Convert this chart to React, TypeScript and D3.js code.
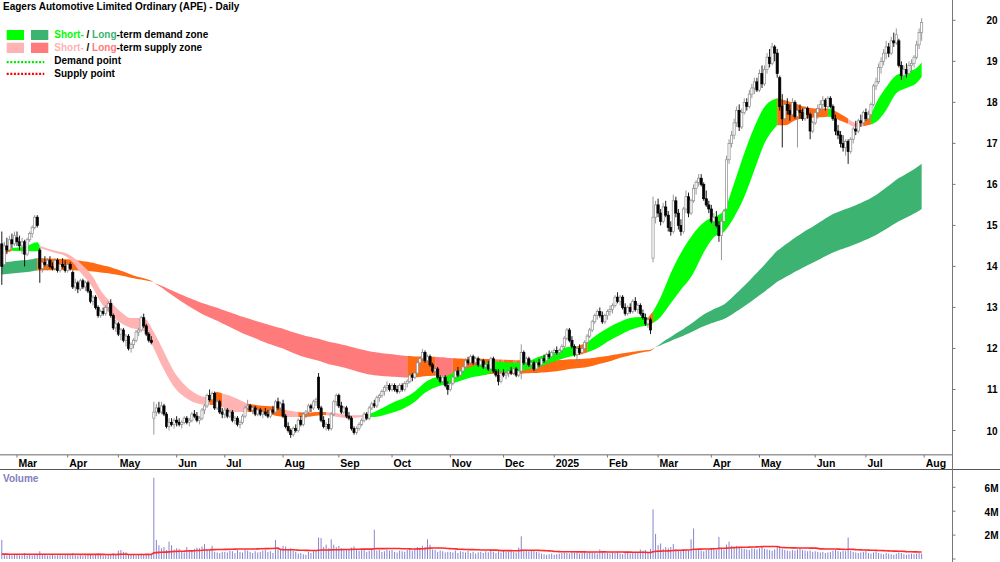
import * as d3 from 'd3';

// [open, high, low, close] for each trading day, grouped by month
type Candle = [number, number, number, number];

const feb24: Candle[] = [
  [14.55, 14.85, 13.55, 14.0], [14.05, 14.6, 14.0, 14.5], [14.5, 14.7, 14.3, 14.4], [14.4, 14.75, 14.35, 14.65],
  [14.65, 14.8, 14.45, 14.55], [14.55, 14.85, 14.5, 14.75],
];
const mar24: Candle[] = [
  [14.7, 14.85, 14.5, 14.6], [14.6, 14.75, 14.4, 14.5], [14.5, 14.7, 14.3, 14.6], [14.6, 14.65, 14.0, 14.3],
  [14.3, 14.7, 14.25, 14.65], [14.65, 14.85, 14.6, 14.8], [14.8, 15.0, 14.7, 14.95], [14.95, 15.25, 14.9, 15.2],
  [15.2, 15.25, 14.95, 15.0], [14.4, 14.45, 13.6, 13.95], [13.95, 14.2, 13.85, 14.1], [14.1, 14.25, 14.0, 14.05],
  [14.05, 14.2, 13.9, 14.15], [14.15, 14.25, 13.95, 14.0], [14.0, 14.1, 13.9, 13.95], [13.95, 14.2, 13.9, 14.15],
  [14.15, 14.2, 13.85, 13.9], [13.9, 14.1, 13.85, 14.05], [14.05, 14.2, 13.95, 14.0], [14.0, 14.15, 13.85, 13.9],
];
const apr24: Candle[] = [
  [13.9, 14.1, 13.85, 14.05], [14.05, 14.1, 13.9, 13.95], [13.85, 13.9, 13.45, 13.5], [13.5, 13.7, 13.4, 13.6],
  [13.6, 13.65, 13.35, 13.45], [13.45, 13.7, 13.4, 13.65], [13.65, 13.7, 13.45, 13.5], [13.5, 13.65, 13.4, 13.6],
  [13.6, 13.65, 13.35, 13.4], [13.4, 13.45, 13.1, 13.15], [13.15, 13.3, 13.05, 13.25], [13.25, 13.3, 12.95, 13.0],
  [13.0, 13.05, 12.75, 12.8], [12.8, 12.95, 12.75, 12.9], [12.9, 13.0, 12.8, 12.85], [12.85, 13.05, 12.8, 13.0],
  [13.0, 13.15, 12.9, 13.1], [13.1, 13.2, 12.75, 12.8], [12.8, 12.85, 12.45, 12.5], [12.5, 12.7, 12.4, 12.6],
];
const may24: Candle[] = [
  [12.6, 12.65, 12.3, 12.35], [12.35, 12.5, 12.2, 12.45], [12.45, 12.5, 12.15, 12.2], [12.2, 12.35, 12.05, 12.3],
  [12.3, 12.35, 11.95, 12.0], [12.0, 12.15, 11.9, 12.1], [12.1, 12.25, 12.0, 12.2], [12.2, 12.45, 12.15, 12.4],
  [12.4, 12.5, 12.3, 12.45], [12.45, 12.8, 12.4, 12.75], [12.75, 12.85, 12.5, 12.55], [12.55, 12.6, 12.3, 12.35],
  [12.35, 12.4, 12.15, 12.2], [12.2, 12.3, 12.1, 12.15], [10.3, 10.7, 9.9, 10.45], [10.45, 10.65, 10.35, 10.55],
  [10.55, 10.7, 10.4, 10.45], [10.45, 10.7, 10.4, 10.6], [10.6, 10.65, 10.35, 10.4], [10.4, 10.45, 10.05, 10.1],
  [10.1, 10.3, 10.0, 10.2], [10.2, 10.3, 10.1, 10.15], [10.15, 10.3, 10.05, 10.25],
];
const jun24: Candle[] = [
  [10.25, 10.35, 10.1, 10.2], [10.2, 10.3, 10.1, 10.15], [10.15, 10.25, 10.05, 10.2], [10.2, 10.35, 10.15, 10.3],
  [10.3, 10.35, 10.15, 10.2], [10.2, 10.3, 10.1, 10.25], [10.25, 10.45, 10.2, 10.4], [10.4, 10.5, 10.3, 10.35],
  [10.35, 10.45, 10.2, 10.25], [10.25, 10.35, 10.15, 10.3], [10.3, 10.55, 10.25, 10.5], [10.5, 10.65, 10.4, 10.6],
  [10.6, 10.9, 10.55, 10.85], [10.85, 11.0, 10.7, 10.75], [10.75, 10.95, 10.7, 10.9], [10.9, 10.95, 10.5, 10.55],
  [10.55, 10.75, 10.5, 10.7], [10.7, 10.75, 10.4, 10.45], [10.45, 10.55, 10.3, 10.4],
];
const jul24: Candle[] = [
  [10.4, 10.55, 10.3, 10.5], [10.5, 10.55, 10.3, 10.35], [10.35, 10.5, 10.3, 10.45], [10.45, 10.5, 10.2, 10.25],
  [10.25, 10.35, 10.15, 10.3], [10.3, 10.35, 10.1, 10.15], [10.15, 10.25, 10.05, 10.2], [10.2, 10.4, 10.15, 10.35],
  [10.35, 10.6, 10.3, 10.55], [10.55, 10.75, 10.5, 10.6], [10.6, 10.65, 10.45, 10.5], [10.5, 10.6, 10.4, 10.55],
  [10.55, 10.6, 10.35, 10.4], [10.4, 10.55, 10.35, 10.5], [10.5, 10.55, 10.35, 10.4], [10.4, 10.5, 10.3, 10.45],
  [10.45, 10.55, 10.35, 10.4], [10.4, 10.5, 10.3, 10.35], [10.35, 10.55, 10.3, 10.5], [10.5, 10.6, 10.4, 10.45],
  [10.45, 10.75, 10.4, 10.7], [10.7, 10.8, 10.5, 10.55], [10.55, 10.7, 10.45, 10.65],
];
const aug24: Candle[] = [
  [10.65, 10.75, 10.3, 10.35], [10.35, 10.4, 10.05, 10.1], [10.1, 10.2, 9.95, 10.0], [10.0, 10.05, 9.82, 9.9],
  [9.9, 10.1, 9.85, 10.05], [10.05, 10.15, 9.95, 10.0], [10.0, 10.3, 9.95, 10.25], [10.25, 10.35, 10.1, 10.15],
  [10.15, 10.45, 10.1, 10.4], [10.4, 10.5, 10.3, 10.45], [10.45, 10.65, 10.4, 10.6], [10.6, 10.65, 10.45, 10.55],
  [10.55, 10.75, 10.5, 10.7], [10.7, 10.8, 10.6, 10.75], [11.3, 11.4, 10.5, 10.55], [10.55, 10.6, 10.2, 10.25],
  [10.25, 10.35, 10.05, 10.1], [10.1, 10.2, 10.0, 10.15], [10.15, 10.3, 10.0, 10.05], [10.05, 10.45, 10.0, 10.4],
  [10.4, 10.75, 10.35, 10.7], [10.7, 10.9, 10.6, 10.85],
];
const sep24: Candle[] = [
  [10.85, 10.9, 10.55, 10.6], [10.6, 10.7, 10.4, 10.45], [10.45, 10.6, 10.4, 10.55], [10.55, 10.6, 10.3, 10.35],
  [10.35, 10.45, 10.25, 10.3], [10.3, 10.35, 10.0, 10.05], [10.05, 10.1, 9.9, 9.95], [9.95, 10.1, 9.9, 10.05],
  [10.05, 10.2, 10.0, 10.15], [10.15, 10.3, 10.1, 10.25], [10.25, 10.45, 10.2, 10.4], [10.4, 10.45, 10.25, 10.3],
  [10.3, 10.6, 10.25, 10.55], [10.55, 10.7, 10.5, 10.65], [10.65, 10.75, 10.55, 10.6], [10.6, 10.85, 10.55, 10.8],
  [10.8, 10.9, 10.7, 10.85], [10.85, 11.0, 10.8, 10.95], [10.95, 11.1, 10.85, 11.05], [11.05, 11.2, 10.95, 11.1],
  [11.1, 11.15, 10.95, 11.0],
];
const oct24: Candle[] = [
  [11.0, 11.15, 10.95, 11.1], [11.1, 11.15, 10.95, 11.0], [11.0, 11.1, 10.9, 10.95], [10.95, 11.15, 10.9, 11.1],
  [11.1, 11.15, 10.95, 11.0], [11.0, 11.2, 10.95, 11.15], [11.15, 11.25, 11.05, 11.2], [11.2, 11.4, 11.15, 11.35],
  [11.35, 11.4, 11.2, 11.3], [11.3, 11.45, 11.25, 11.4], [11.4, 11.7, 11.35, 11.65], [11.65, 11.8, 11.55, 11.75],
  [11.75, 11.99, 11.7, 11.9], [11.9, 11.95, 11.65, 11.7], [11.7, 11.85, 11.65, 11.8], [11.8, 11.85, 11.55, 11.6],
  [11.6, 11.65, 11.4, 11.45], [11.45, 11.55, 11.35, 11.5], [11.5, 11.55, 11.25, 11.3], [11.3, 11.35, 11.15, 11.2],
  [11.2, 11.35, 11.15, 11.3], [11.3, 11.35, 11.05, 11.1], [11.1, 11.2, 10.87, 11.0],
];
const nov24: Candle[] = [
  [11.0, 11.2, 10.95, 11.15], [11.15, 11.35, 11.1, 11.3], [11.3, 11.5, 11.25, 11.45], [11.45, 11.55, 11.3, 11.35],
  [11.35, 11.5, 11.3, 11.45], [11.45, 11.6, 11.4, 11.55], [11.55, 11.75, 11.5, 11.7], [11.7, 11.8, 11.6, 11.65],
  [11.65, 11.85, 11.6, 11.8], [11.8, 11.85, 11.6, 11.65], [11.65, 11.8, 11.6, 11.75], [11.75, 11.8, 11.55, 11.6],
  [11.6, 11.75, 11.55, 11.7], [11.7, 11.75, 11.5, 11.55], [11.55, 11.65, 11.5, 11.6], [11.6, 11.7, 11.45, 11.5],
  [11.5, 11.8, 11.45, 11.75], [11.75, 11.8, 11.4, 11.45], [11.45, 11.5, 11.3, 11.35], [11.35, 11.5, 11.1, 11.2],
  [11.2, 11.45, 11.15, 11.4],
];
const dec24: Candle[] = [
  [11.4, 11.5, 11.3, 11.35], [11.35, 11.45, 11.25, 11.4], [11.4, 11.5, 11.3, 11.45], [11.45, 11.55, 11.35, 11.4],
  [11.4, 11.55, 11.35, 11.5], [11.5, 11.55, 11.3, 11.35], [11.35, 11.5, 11.3, 11.45], [11.45, 12.1, 11.25, 11.9],
  [11.9, 11.95, 11.6, 11.65], [11.65, 11.8, 11.55, 11.75], [11.75, 11.8, 11.55, 11.6], [11.6, 11.7, 11.5, 11.65],
  [11.65, 11.7, 11.45, 11.5], [11.5, 11.7, 11.45, 11.65], [11.65, 11.75, 11.55, 11.6], [11.6, 11.8, 11.55, 11.75],
  [11.75, 11.85, 11.65, 11.7], [11.7, 11.9, 11.65, 11.85], [11.85, 11.95, 11.75, 11.8], [11.8, 11.95, 11.75, 11.9],
];
const jan25: Candle[] = [
  [11.9, 12.0, 11.8, 11.95], [11.95, 12.05, 11.85, 11.9], [11.9, 12.0, 11.8, 11.95], [11.95, 12.1, 11.9, 12.05],
  [12.05, 12.3, 12.0, 12.25], [12.25, 12.5, 12.2, 12.45], [12.45, 12.5, 12.15, 12.2], [12.2, 12.3, 12.0, 12.05],
  [12.05, 12.1, 11.8, 11.85], [11.85, 12.05, 11.65, 12.0], [12.0, 12.1, 11.85, 11.9], [11.9, 12.05, 11.85, 12.0],
  [12.0, 12.2, 11.95, 12.15], [12.15, 12.35, 12.1, 12.3], [12.3, 12.5, 12.25, 12.45], [12.45, 12.7, 12.4, 12.65],
  [12.65, 12.85, 12.6, 12.8], [12.8, 12.95, 12.7, 12.9], [12.9, 13.0, 12.75, 12.8], [12.8, 12.9, 12.6, 12.65],
  [12.65, 12.85, 12.6, 12.8],
];
const feb25: Candle[] = [
  [12.8, 12.95, 12.7, 12.9], [12.9, 13.05, 12.8, 12.95], [12.95, 13.1, 12.85, 13.05], [13.05, 13.3, 13.0, 13.25],
  [13.25, 13.37, 13.1, 13.15], [13.15, 13.3, 13.05, 13.25], [13.25, 13.3, 12.95, 13.0], [13.0, 13.1, 12.8, 12.85],
  [12.85, 13.05, 12.8, 13.0], [13.0, 13.1, 12.85, 12.9], [12.9, 13.2, 12.85, 13.15], [13.15, 13.25, 12.9, 12.95],
  [12.95, 13.1, 12.85, 13.05], [13.05, 13.1, 12.8, 12.85], [12.85, 12.95, 12.7, 12.75], [12.75, 12.85, 12.55, 12.6],
  [12.6, 12.75, 12.5, 12.7], [12.7, 12.75, 12.35, 12.45], [14.2, 15.7, 14.1, 15.2], [15.2, 15.6, 15.05, 15.5],
];
const mar25: Candle[] = [
  [15.5, 15.65, 15.2, 15.3], [15.3, 15.4, 15.0, 15.1], [15.1, 15.55, 15.05, 15.45], [15.45, 15.6, 15.2, 15.25],
  [15.25, 15.35, 14.85, 14.95], [14.95, 15.1, 14.75, 14.85], [14.85, 15.75, 14.8, 15.6], [15.6, 15.7, 15.2, 15.3],
  [15.3, 15.4, 14.9, 15.0], [15.0, 15.15, 14.75, 14.85], [14.85, 15.45, 14.8, 15.4], [15.4, 15.85, 15.3, 15.7],
  [15.7, 15.8, 15.2, 15.3], [15.3, 15.65, 15.25, 15.6], [15.6, 16.0, 15.55, 15.9], [15.9, 16.1, 15.75, 16.05],
  [16.05, 16.25, 15.95, 16.15], [16.15, 16.25, 15.95, 16.0], [16.0, 16.05, 15.6, 15.65], [15.65, 15.85, 15.45, 15.5],
  [15.5, 15.6, 15.3, 15.4],
];
const apr25: Candle[] = [
  [15.4, 15.5, 15.05, 15.1], [15.1, 15.3, 14.9, 15.2], [15.2, 15.35, 14.95, 15.0], [15.0, 15.1, 14.6, 14.75],
  [14.75, 15.2, 14.15, 15.1], [15.1, 15.4, 15.05, 15.35], [15.4, 16.7, 15.4, 16.6], [16.6, 17.1, 16.5, 17.0],
  [17.0, 17.3, 16.9, 17.2], [17.2, 17.6, 17.1, 17.5], [17.5, 17.9, 17.4, 17.8], [17.8, 17.95, 17.3, 17.4],
  [17.4, 17.85, 17.35, 17.75], [17.75, 18.1, 17.7, 18.0], [18.0, 18.1, 17.8, 17.9], [17.9, 18.3, 17.85, 18.2],
  [18.2, 18.45, 18.1, 18.35], [18.35, 18.6, 18.2, 18.5], [18.5, 18.6, 18.25, 18.3],
];
const may25: Candle[] = [
  [18.3, 18.8, 18.25, 18.7], [18.7, 18.9, 18.35, 18.45], [18.45, 18.9, 18.4, 18.8], [18.8, 19.2, 18.7, 19.1],
  [19.1, 19.3, 18.85, 18.95], [18.95, 19.45, 18.9, 19.35], [19.35, 19.4, 19.0, 19.2], [19.2, 19.3, 18.6, 18.7],
  [18.6, 18.65, 17.8, 17.9], [17.9, 18.2, 16.9, 17.6], [17.6, 18.05, 17.55, 17.95], [17.95, 18.1, 17.7, 17.8],
  [17.8, 17.95, 17.55, 17.7], [17.7, 18.1, 17.65, 18.0], [18.0, 18.05, 17.6, 17.65], [17.65, 17.9, 16.9, 17.8],
  [17.8, 17.95, 17.6, 17.75], [17.75, 17.85, 17.55, 17.6], [17.6, 17.9, 17.55, 17.85], [17.85, 17.9, 17.6, 17.7],
  [17.7, 17.75, 17.1, 17.3], [17.3, 17.55, 17.25, 17.5],
];
const jun25: Candle[] = [
  [17.5, 17.8, 17.45, 17.75], [17.75, 17.95, 17.6, 17.85], [17.85, 18.05, 17.75, 17.95], [17.95, 18.15, 17.85, 18.05],
  [18.05, 18.1, 17.8, 17.9], [17.9, 18.15, 17.85, 18.1], [18.1, 18.15, 17.85, 17.9], [17.9, 17.95, 17.55, 17.6],
  [17.6, 17.7, 17.2, 17.3], [17.3, 17.45, 17.1, 17.2], [17.2, 17.3, 16.9, 17.0], [17.0, 17.2, 16.8, 16.9],
  [16.9, 17.1, 16.7, 17.05], [17.05, 17.1, 16.5, 16.8], [16.8, 17.15, 16.75, 17.1], [17.1, 17.4, 17.0, 17.35],
  [17.35, 17.55, 17.2, 17.3], [17.3, 17.6, 17.25, 17.55], [17.55, 17.7, 17.4, 17.5], [17.5, 17.8, 17.45, 17.75],
];
const jul25: Candle[] = [
  [17.75, 17.85, 17.55, 17.6], [17.6, 17.8, 17.5, 17.7], [17.7, 18.0, 17.65, 17.95], [17.95, 18.45, 17.9, 18.4],
  [18.4, 18.6, 18.3, 18.5], [18.5, 18.95, 18.45, 18.85], [18.85, 19.1, 18.7, 19.0], [19.0, 19.3, 18.9, 19.2],
  [19.2, 19.5, 19.05, 19.35], [19.35, 19.45, 19.1, 19.2], [19.2, 19.6, 19.15, 19.5], [19.5, 19.7, 19.35, 19.45],
  [19.45, 19.8, 19.4, 19.65], [19.5, 19.55, 18.85, 18.9], [18.9, 19.0, 18.55, 18.65], [18.65, 18.9, 18.5, 18.8],
  [18.8, 18.95, 18.6, 18.7], [18.7, 19.0, 18.65, 18.9], [18.9, 19.05, 18.75, 18.95], [18.95, 19.15, 18.85, 19.1],
  [19.1, 19.5, 19.05, 19.4], [19.4, 19.8, 19.3, 19.7], [19.7, 20.05, 19.5, 19.95],
];

// daily volume in millions of shares
const volFeb24 = [1.6, 0.45, 0.3, 0.35, 0.3, 0.4];
const volMar24 = [0.35, 0.3, 0.3, 0.5, 0.3, 0.35, 0.3, 0.4, 0.35, 0.65, 0.4, 0.35, 0.3, 0.3, 0.35, 0.3, 0.3, 0.35, 0.3, 0.4];
const volApr24 = [0.35, 0.3, 0.5, 0.35, 0.3, 0.3, 0.25, 0.3, 0.35, 0.4, 0.3, 0.35, 0.5, 0.35, 0.3, 0.3, 0.35, 0.4, 0.45, 0.35];
const volMay24 = [0.7, 0.75, 0.6, 0.55, 0.4, 0.35, 0.35, 0.3, 0.4, 0.45, 0.4, 0.35, 0.35, 0.4, 6.8, 1.6, 1.15, 0.9, 1.0, 0.75, 1.45, 1.15, 0.8];
const volJun24 = [0.9, 0.85, 0.6, 0.55, 1.0, 0.6, 0.7, 0.85, 0.95, 0.9, 1.05, 1.25, 0.8, 0.7, 1.1, 0.6, 0.55, 0.5, 0.6];
const volJul24 = [0.6, 0.55, 0.7, 0.65, 0.5, 0.75, 0.6, 0.55, 0.8, 0.7, 0.6, 0.5, 0.65, 0.55, 0.6, 0.7, 0.75, 0.6, 0.65, 0.5, 1.6, 0.9, 0.75];
const volAug24 = [1.1, 1.05, 0.8, 0.9, 0.7, 0.6, 0.45, 0.5, 0.4, 0.35, 0.6, 0.5, 0.65, 0.7, 1.8, 1.75, 1.0, 1.2, 0.9, 1.65, 1.2, 1.0];
const volSep24 = [1.1, 0.9, 0.85, 0.8, 0.75, 0.95, 1.05, 0.8, 0.7, 0.75, 0.85, 0.6, 0.7, 0.8, 2.45, 0.7, 0.75, 0.6, 0.65, 0.8, 0.7];
const volOct24 = [0.75, 0.6, 0.55, 0.7, 0.65, 0.6, 0.75, 0.8, 0.7, 0.9, 1.0, 0.95, 1.1, 1.0, 1.65, 1.2, 0.8, 0.75, 0.6, 0.7, 0.65, 0.55, 0.6];
const volNov24 = [0.6, 0.55, 0.7, 0.5, 0.65, 0.6, 0.55, 0.7, 0.5, 0.6, 0.45, 0.55, 0.6, 0.5, 0.65, 0.55, 0.7, 0.6, 0.5, 0.65, 0.55];
const volDec24 = [0.7, 0.6, 0.65, 0.75, 0.6, 0.55, 0.95, 1.9, 0.8, 0.7, 0.65, 0.75, 0.7, 0.6, 0.55, 0.45, 0.4, 0.35, 0.4, 0.45];
const volJan25 = [0.35, 0.4, 0.45, 0.5, 0.55, 0.5, 0.45, 0.6, 0.55, 0.5, 0.45, 0.5, 0.55, 0.5, 0.6, 0.55, 0.5, 0.45, 0.8, 0.6, 0.5];
const volFeb25 = [0.5, 0.45, 0.55, 0.5, 0.6, 0.45, 0.4, 0.5, 0.55, 0.45, 0.5, 0.6, 0.5, 0.8, 0.7, 0.75, 0.6, 0.85, 4.15, 2.1];
const volMar25 = [1.15, 1.3, 0.85, 1.0, 0.9, 1.0, 1.25, 0.8, 0.75, 0.7, 0.8, 0.75, 0.7, 1.65, 2.55, 0.8, 0.75, 0.7, 0.65, 0.75, 0.8];
const volApr25 = [0.85, 0.9, 0.75, 1.85, 0.9, 0.8, 1.2, 1.45, 1.1, 1.0, 1.1, 0.95, 0.9, 0.85, 0.8, 0.75, 0.9, 0.85, 0.8];
const volMay25 = [0.9, 1.05, 0.85, 0.8, 0.75, 0.7, 0.8, 1.0, 1.1, 0.85, 0.75, 0.7, 0.65, 0.75, 0.7, 0.8, 0.9, 0.75, 0.7, 0.65, 0.7, 0.6];
const volJun25 = [0.65, 0.6, 0.55, 0.6, 0.5, 0.55, 0.6, 0.7, 0.75, 0.65, 0.6, 0.7, 0.65, 1.8, 0.7, 0.6, 0.55, 0.5, 0.55, 0.6];
const volJul25 = [0.7, 0.5, 0.45, 0.55, 0.6, 0.5, 0.45, 0.4, 0.5, 0.45, 0.4, 0.35, 0.45, 0.55, 0.5, 0.4, 0.35, 0.4, 0.45, 0.4, 0.45, 0.5, 0.45];
const volMASeed = 0.38; // average volume before the first bar

// short-term zone: [day index, upper, lower, state until the next row]
type State = 'demand' | 'supply' | 'mixed';
type ZoneRow = [number, number, number, State];
const shortZone: ZoneRow[] = [
  [0, 14.36, 14.3, 'mixed'], [4, 14.45, 14.38, 'demand'], [9, 14.48, 14.37, 'demand'], [14, 14.59, 14.37, 'demand'],
  [15, 14.5, 14.45, 'supply'], [20, 14.4, 14.35, 'supply'], [26, 14.3, 14.22, 'supply'], [31, 14.08, 13.86, 'supply'],
  [36, 13.74, 13.47, 'supply'], [39, 13.42, 13.13, 'supply'], [43, 13.13, 12.82, 'supply'], [47, 12.89, 12.62, 'supply'],
  [51, 12.74, 12.5, 'supply'], [55, 12.74, 12.45, 'supply'], [57, 12.7, 12.38, 'supply'], [60, 12.4, 12.0, 'supply'],
  [64, 11.92, 11.48, 'supply'], [68, 11.43, 11.06, 'supply'], [72, 11.12, 10.82, 'supply'], [76, 10.92, 10.68, 'supply'],
  [80, 10.82, 10.63, 'supply'], [82, 10.86, 10.63, 'mixed'], [85, 10.94, 10.62, 'mixed'], [87, 10.9, 10.57, 'supply'],
  [92, 10.8, 10.45, 'supply'], [97, 10.65, 10.45, 'mixed'], [104, 10.6, 10.43, 'mixed'], [108, 10.58, 10.36, 'mixed'],
  [112, 10.5, 10.33, 'supply'], [117, 10.45, 10.33, 'mixed'], [120, 10.43, 10.33, 'mixed'], [124, 10.45, 10.36, 'mixed'],
  [128, 10.45, 10.38, 'supply'], [131, 10.43, 10.35, 'supply'], [137, 10.38, 10.3, 'supply'], [142, 10.37, 10.32, 'supply'],
  [145, 10.4, 10.33, 'demand'], [147, 10.45, 10.33, 'demand'], [151, 10.57, 10.38, 'demand'], [155, 10.7, 10.45, 'demand'],
  [159, 10.8, 10.55, 'demand'], [163, 10.95, 10.7, 'demand'], [167, 11.17, 10.92, 'demand'], [171, 11.29, 11.05, 'demand'],
  [175, 11.32, 11.12, 'demand'], [179, 11.43, 11.17, 'demand'], [185, 11.55, 11.29, 'demand'], [191, 11.65, 11.36, 'demand'],
  [195, 11.68, 11.43, 'demand'], [201, 11.65, 11.41, 'demand'], [207, 11.68, 11.48, 'demand'], [212, 11.8, 11.55, 'demand'],
  [218, 11.92, 11.68, 'demand'], [224, 12.04, 11.8, 'demand'], [227, 12.05, 11.83, 'mixed'], [231, 12.15, 11.9, 'demand'],
  [236, 12.38, 12.04, 'demand'], [240, 12.53, 12.2, 'demand'], [244, 12.65, 12.33, 'demand'], [248, 12.74, 12.45, 'demand'],
  [252, 12.77, 12.53, 'demand'], [255, 12.75, 12.56, 'mixed'], [257, 12.9, 12.62, 'demand'], [260, 13.25, 12.77, 'demand'],
  [264, 13.84, 13.1, 'demand'], [268, 14.33, 13.43, 'demand'], [272, 14.72, 13.74, 'demand'], [278, 15.12, 14.45, 'demand'],
  [281, 15.2, 14.71, 'demand'], [285, 15.37, 14.84, 'demand'], [289, 16.03, 15.2, 'demand'], [293, 16.76, 15.69, 'demand'],
  [297, 17.4, 16.35, 'demand'], [301, 17.89, 17.0, 'demand'], [306, 18.1, 17.44, 'mixed'], [309, 18.05, 17.44, 'mixed'],
  [313, 17.98, 17.56, 'mixed'], [317, 17.89, 17.61, 'mixed'], [321, 17.85, 17.63, 'mixed'], [326, 17.85, 17.65, 'demand'],
  [328, 17.82, 17.64, 'mixed'], [333, 17.64, 17.5, 'mixed'], [334, 17.6, 17.48, 'supply'], [337, 17.5, 17.4, 'supply'],
  [340, 17.5, 17.42, 'mixed'], [343, 17.7, 17.46, 'demand'], [345, 17.98, 17.52, 'demand'], [349, 18.37, 17.81, 'demand'],
  [353, 18.66, 18.22, 'demand'], [357, 18.74, 18.35, 'demand'], [361, 18.84, 18.47, 'demand'], [363, 18.98, 18.62, 'demand'],
];

// long-term zone moving averages and their values on the day before the chart
const longPeriods = [144, 233];
const longSeeds = [14.1, 13.8];

// ASX holidays inside the range
const holidays = ['2024-03-29', '2024-04-01', '2024-04-25', '2024-06-10', '2024-12-25', '2024-12-26',
  '2025-01-01', '2025-01-27', '2025-04-18', '2025-04-21', '2025-04-25', '2025-06-09'];

const priceTicks = [10, 11, 12, 13, 14, 15, 16, 17, 18, 19, 20];
const volumeTicks = [2, 4, 6];

const candles: Candle[] = [...feb24, ...mar24, ...apr24, ...may24, ...jun24, ...jul24, ...aug24, ...sep24, ...oct24,
  ...nov24, ...dec24, ...jan25, ...feb25, ...mar25, ...apr25, ...may25, ...jun25, ...jul25];
const volumes = [...volFeb24, ...volMar24, ...volApr24, ...volMay24, ...volJun24, ...volJul24, ...volAug24, ...volSep24,
  ...volOct24, ...volNov24, ...volDec24, ...volJan25, ...volFeb25, ...volMar25, ...volApr25, ...volMay25, ...volJun25, ...volJul25];

const FONT = "'Liberation Sans', Arial, sans-serif";
const AXIS_X = 952;

function ema(values: number[], period: number, seed: number) {
  const a = 2 / (period + 1);
  let e = seed;
  return values.map(v => (e = e + a * (v - e)));
}

function zoneStates(fast: number[], slow: number[], fastSeed: number): State[] {
  return fast.map((f, i) => {
    const rising = f > (i === 0 ? fastSeed : fast[i - 1]);
    if (f > slow[i] && rising) return 'demand';
    if (f < slow[i] && !rising) return 'supply';
    return 'mixed';
  });
}

function stateRuns(states: State[]) {
  const out: { state: State; from: number; to: number }[] = [];
  let s = 0;
  for (let i = 1; i <= states.length; i++) {
    if (i === states.length || states[i] !== states[s]) {
      out.push({ state: states[s], from: Math.max(0, s - 1), to: i - 1 });
      s = i;
    }
  }
  return out;
}

// consecutive rows with one state, each group closed by the first row of the next
function zoneGroups(rows: ZoneRow[]) {
  const out: { state: State; rows: ZoneRow[] }[] = [];
  let s = 0;
  for (let i = 1; i <= rows.length; i++) {
    if (i === rows.length || rows[i][3] !== rows[s][3]) {
      out.push({ state: rows[s][3], rows: rows.slice(s, Math.min(i + 1, rows.length)) });
      s = i;
    }
  }
  return out;
}

export default function App() {
  const fmtDay = d3.utcFormat('%Y-%m-%d');
  const dates = d3.utcDay
    .range(new Date(Date.UTC(2024, 1, 22)), new Date(Date.UTC(2025, 7, 1)))
    .filter(d => d.getUTCDay() % 6 !== 0 && !holidays.includes(fmtDay(d)));

  const x = d3.scaleLinear().domain([0, 364]).range([1.8, 1.8 + 364 * 2.534]);
  const y = d3.scaleLinear().domain([10, 20]).range([430.5, 20.3]);
  const yv = d3.scaleLinear().domain([0, 6]).range([559, 487.3]);

  const closes = candles.map(c => c[3]);
  const [e144, e233] = longPeriods.map((p, k) => ema(closes, p, longSeeds[k]));
  const longRuns = stateRuns(zoneStates(e144, e233, longSeeds[0]));

  const shortColors: Record<State, string> = { demand: '#00ff00', supply: '#ffb3b3', mixed: '#ff6a13' };
  const longColors: Record<State, string> = { demand: '#3cb371', supply: '#ff7a7a', mixed: '#ff6a13' };

  const longArea = d3.area<number>().x(i => x(i)).y0(i => y(e233[i])).y1(i => y(e144[i]));
  const shortArea = d3.area<ZoneRow>()
    .x(r => x(r[0])).y0(r => y(r[2])).y1(r => y(r[1]))
    .curve(d3.curveMonotoneX);

  const volMA = volumes.map((_, i) => {
    const win = volumes.slice(Math.max(0, i - 49), i + 1);
    return (d3.sum(win) + (50 - win.length) * volMASeed) / 50;
  });
  const maLine = d3.line<number>().x((_, i) => x(i)).y(v => yv(v));

  const fmtMonth = d3.utcFormat('%b');
  const monthTicks: { i: number; label: string }[] = [];
  dates.forEach((d, i) => {
    if (i > 0 && d.getUTCMonth() !== dates[i - 1].getUTCMonth()) {
      monthTicks.push({ i, label: d.getUTCMonth() === 0 ? String(d.getUTCFullYear()) : fmtMonth(d) });
    }
  });
  monthTicks.push({ i: dates.length, label: 'Aug' });

  const textStyle = { fontFamily: FONT, fontWeight: 700, fontSize: 10 } as const;

  return (
    <svg width={1000} height={562} style={{ position: 'absolute', left: 0, top: 0, background: '#fff' }}>
      {/* zones */}
      {longRuns.map((r, k) => (
        <path key={'l' + k} d={longArea(d3.range(r.from, r.to + 1)) || ''} fill={longColors[r.state]} />
      ))}
      {zoneGroups(shortZone).map((g, k) => (
        <path key={'s' + k} d={shortArea(g.rows) || ''} fill={shortColors[g.state]} />
      ))}

      {/* candles */}
      {candles.map(([o, h, l, c], i) => {
        const up = c >= o;
        const cx = x(i);
        const top = y(Math.max(o, c));
        const bh = Math.max(0.8, y(Math.min(o, c)) - top);
        return (
          <g key={i}>
            <line x1={cx} x2={cx} y1={y(h)} y2={y(l)} stroke={up ? '#8c8c8c' : '#000'} strokeWidth={0.9} />
            <rect x={cx - 1.1} y={top} width={2.2} height={bh}
              fill={up ? '#fff' : '#000'} stroke={up ? '#8c8c8c' : '#000'} strokeWidth={0.7} />
          </g>
        );
      })}

      {/* volume */}
      {volumes.map((v, i) => (
        <line key={'v' + i} x1={x(i)} x2={x(i)} y1={yv(0)} y2={yv(v)} stroke="#8585cf" strokeWidth={1} />
      ))}
      <path d={maLine(volMA) || ''} fill="none" stroke="#ff2a2a" strokeWidth={1.6} />
      <text x={3} y={481.7} style={textStyle} fill="#8080c0">Volume</text>

      {/* frame */}
      <line x1={0} x2={AXIS_X} y1={454.8} y2={454.8} stroke="#9a9a9a" strokeWidth={1.6} />
      <line x1={0} x2={1000} y1={469.5} y2={469.5} stroke="#555" strokeWidth={1} />
      <line x1={AXIS_X + 0.5} x2={AXIS_X + 0.5} y1={0} y2={562} stroke="#777" strokeWidth={1} />

      {/* month axis */}
      {monthTicks.map(t => (
        <g key={'m' + t.i}>
          <line x1={x(t.i)} x2={x(t.i)} y1={455} y2={457.5} stroke="#777" />
          <text x={x(t.i) + 1.5} y={466.7} style={{ ...textStyle, fontSize: 10.5 }} fill="#000">{t.label}</text>
        </g>
      ))}

      {/* price axis */}
      {priceTicks.map(p => (
        <g key={'p' + p}>
          <line x1={AXIS_X + 0.5} x2={AXIS_X + 3.5} y1={y(p)} y2={y(p)} stroke="#777" />
          <text x={997.5} y={y(p) + 4} textAnchor="end" style={textStyle} fill="#000">{p}</text>
        </g>
      ))}

      {/* volume axis */}
      {[0, ...volumeTicks].map(v => (
        <line key={'vt' + v} x1={AXIS_X + 0.5} x2={AXIS_X + 3.5} y1={yv(v)} y2={yv(v)} stroke="#777" />
      ))}
      {volumeTicks.map(v => (
        <text key={'vl' + v} x={998.5} y={yv(v) + 4.3} textAnchor="end" style={textStyle} fill="#000">{v}M</text>
      ))}

      {/* title and legend */}
      <text x={3} y={9.5} style={textStyle} fill="#000">Eagers Automotive Limited Ordinary (APE) - Daily</text>
      <rect x={6.7} y={30} width={17.3} height={10} fill={shortColors.demand} />
      <rect x={31} y={30} width={17.3} height={10} fill={longColors.demand} />
      <text x={54.3} y={37.8} style={textStyle}>
        <tspan fill="#00ff00">Short-</tspan><tspan fill="#000"> / </tspan>
        <tspan fill="#3cb371">Long</tspan><tspan fill="#000">-term demand zone</tspan>
      </text>
      <rect x={6.7} y={42.7} width={17.3} height={10.3} fill={shortColors.supply} />
      <rect x={31} y={42.7} width={17.3} height={10.3} fill={longColors.supply} />
      <text x={54.3} y={51} style={textStyle}>
        <tspan fill="#ffb3b3">Short-</tspan><tspan fill="#000"> / </tspan>
        <tspan fill="#ff7a7a">Long</tspan><tspan fill="#000">-term supply zone</tspan>
      </text>
      <line x1={6.7} x2={44.3} y1={62.2} y2={62.2} stroke="#00e600" strokeWidth={2.2} strokeDasharray="2 1.6" />
      <text x={54.3} y={64.3} style={textStyle} fill="#000">Demand point</text>
      <line x1={6.7} x2={44.3} y1={73.9} y2={73.9} stroke="#ff0000" strokeWidth={2.2} strokeDasharray="2 1.6" />
      <text x={54.3} y={76.7} style={textStyle} fill="#000">Supply point</text>
    </svg>
  );
}
